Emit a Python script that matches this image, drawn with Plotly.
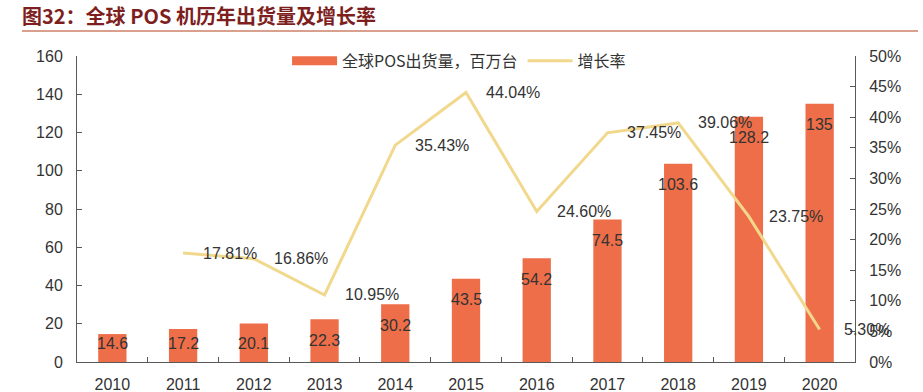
import plotly.graph_objects as go

years = ["2010", "2011", "2012", "2013", "2014", "2015", "2016", "2017", "2018", "2019", "2020"]
shipments = [14.6, 17.2, 20.1, 22.3, 30.2, 43.5, 54.2, 74.5, 103.6, 128.2, 135]
growth = [None, 17.81, 16.86, 10.95, 35.43, 44.04, 24.60, 37.45, 39.06, 23.75, 5.30]

BAR_NAME = "全球POS出货量，百万台"
LINE_NAME = "增长率"
TITLE = "图32：全球 POS 机历年出货量及增长率"

BAR_COLOR = "#ED6E48"
LINE_COLOR = "#F1D88C"
TEXT_COLOR = "#333333"
AXIS_COLOR = "#595959"
FONT = "Liberation Sans, Arial, Noto Sans CJK SC, sans-serif"
CJK_FONT = "Noto Sans CJK SC, sans-serif"

fig = go.Figure()

fig.add_trace(go.Bar(
    x=years, y=shipments, name=BAR_NAME, marker=dict(color=BAR_COLOR, line=dict(width=0)),
    showlegend=False, yaxis="y",
))
fig.add_trace(go.Scatter(
    x=years, y=growth, name=LINE_NAME, mode="lines",
    line=dict(color=LINE_COLOR, width=3), yaxis="y2", showlegend=False,
))
# legend entries (no visible marks)
fig.add_trace(go.Scatter(x=[years[0]], y=[None], mode="lines", name=BAR_NAME,
                         line=dict(color=BAR_COLOR, width=9), hoverinfo="skip"))
fig.add_trace(go.Scatter(x=[years[0]], y=[None], mode="lines", name=LINE_NAME,
                         line=dict(color=LINE_COLOR, width=3), yaxis="y2", hoverinfo="skip"))

annotations = []
for i, v in enumerate(shipments):
    annotations.append(dict(
        x=i, y=max(v - 11, 9.9), xref="x", yref="y", text=f"{v:g}", showarrow=False,
        font=dict(size=16, color=TEXT_COLOR, family=FONT), yanchor="middle", xanchor="center",
    ))
for i, g in enumerate(growth):
    if g is None:
        continue
    annotations.append(dict(
        x=i, y=g, xref="x", yref="y2", text=f"{g:.2f}%", showarrow=False,
        font=dict(size=16, color=TEXT_COLOR, family=FONT), yanchor="middle", xanchor="center",
        xshift=47,
    ))

fig.update_layout(
    width=923, height=392,
    margin=dict(l=77, r=68, t=56, b=30, autoexpand=False),
    paper_bgcolor="white", plot_bgcolor="white",
    font=dict(family=FONT, size=16, color=TEXT_COLOR),
    bargap=0.6,
    title=dict(text="<b>" + TITLE + "</b>", x=22 / 923, xanchor="left", y=1 - 17 / 392, yanchor="middle",
               xref="container", yref="container",
               font=dict(size=20, color="#7E1F1F", family=CJK_FONT)),
    legend=dict(orientation="h", x=0.27, y=0.984, xanchor="left", yanchor="middle",
                bgcolor="rgba(0,0,0,0)", font=dict(size=16, family=CJK_FONT, color=TEXT_COLOR),
                itemwidth=45, traceorder="normal", tracegroupgap=0, entrywidth=0),
    xaxis=dict(type="category", categoryorder="array", categoryarray=years, range=[-0.5, 10.5],
               showline=True, linecolor=AXIS_COLOR, linewidth=1, automargin=False,
               ticks="inside", tickson="boundaries", ticklen=5, tickcolor=AXIS_COLOR,
               showgrid=False, ticklabelstandoff=8, tickfont=dict(size=16), tickangle=0),
    yaxis=dict(range=[0, 160], dtick=20, showline=True, linecolor=AXIS_COLOR, ticks="inside",
               ticklen=5, tickcolor=AXIS_COLOR, showgrid=False, zeroline=False, automargin=False,
               ticklabelstandoff=10, tickfont=dict(size=16)),
    yaxis2=dict(range=[0, 50], dtick=5, ticksuffix="%", overlaying="y", side="right",
                showline=True, linecolor=AXIS_COLOR, ticks="inside", ticklen=5, tickcolor=AXIS_COLOR,
                showgrid=False, zeroline=False, ticklabelstandoff=10, tickfont=dict(size=16),
                automargin=False),
    annotations=annotations,
    shapes=[dict(type="line", xref="paper", yref="paper",
                 x0=(22 - 77) / 778, x1=(918 - 77) / 778, y0=(362 - 31) / 306, y1=(362 - 31) / 306,
                 line=dict(color="#D9A08E", width=2))],
)

fig.write_html("out.html", config={"displayModeBar": False},
               post_script="document.body.style.margin='0';document.body.style.overflow='hidden';")
